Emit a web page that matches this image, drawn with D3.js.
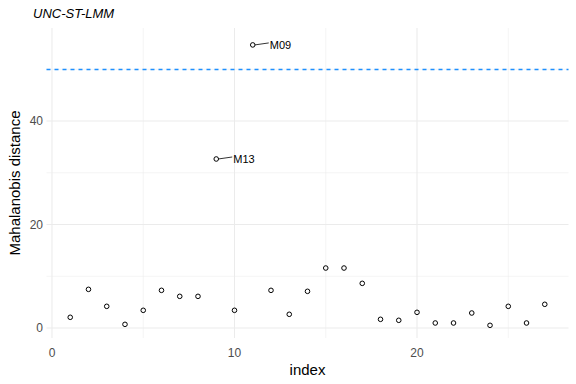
<!DOCTYPE html>
<html><head><meta charset="utf-8">
<script src="https://cdn.jsdelivr.net/npm/d3@7"></script>
<style>body{margin:0;background:#fff}svg{display:block}text{font-family:"Liberation Sans",Arial,sans-serif}</style>
</head><body><div id="chart"></div>
<script>
const indices = d3.range(1, 28);
const distances = [2.07, 7.47, 4.19, 0.71, 3.42, 7.28, 6.12, 6.12, 32.66, 3.42, 54.7, 7.28, 2.65, 7.09, 11.59, 11.59, 8.63, 1.68, 1.49, 3.03, 0.97, 0.97, 2.90, 0.52, 4.19, 0.97, 4.58];
const labels = [{index: 9, name: "M13"}, {index: 11, name: "M09"}];
const threshold = 50.05;
const xTicks = [0, 10, 20];
const yTicks = [0, 20, 40];
const xMinor = [5, 15, 25];
const yMinor = [10, 30, 50];
const title = "UNC-ST-LMM";

const W = 576, H = 384;
const svg = d3.select("#chart").append("svg").attr("width", W).attr("height", H);
const x = d3.scaleLinear().domain([-0.3, 28.3]).range([46.5, 568.5]);
const y = d3.scaleLinear().domain([-1.93, 57.97]).range([338, 28]);
const grid = svg.append("g");
grid.selectAll(".xmin").data(xMinor).join("line").attr("x1", d => x(d)).attr("x2", d => x(d)).attr("y1", y.range()[0]).attr("y2", y.range()[1]).attr("stroke", "#ebebeb").attr("stroke-width", 0.55);
grid.selectAll(".ymin").data(yMinor).join("line").attr("y1", d => y(d)).attr("y2", d => y(d)).attr("x1", x.range()[0]).attr("x2", x.range()[1]).attr("stroke", "#ebebeb").attr("stroke-width", 0.55);
grid.selectAll(".xmaj").data(xTicks).join("line").attr("x1", d => x(d)).attr("x2", d => x(d)).attr("y1", y.range()[0]).attr("y2", y.range()[1]).attr("stroke", "#ebebeb").attr("stroke-width", 1.07);
grid.selectAll(".ymaj").data(yTicks).join("line").attr("y1", d => y(d)).attr("y2", d => y(d)).attr("x1", x.range()[0]).attr("x2", x.range()[1]).attr("stroke", "#ebebeb").attr("stroke-width", 1.07);

const ty = Math.round(y(threshold)) + 0.5;
svg.append("line").attr("x1", x.range()[0]).attr("x2", x.range()[1]).attr("y1", ty).attr("y2", ty)
  .attr("stroke", "#1E90FF").attr("stroke-width", 1.3).attr("stroke-dasharray", "4,4");

svg.append("g").selectAll("text").data(xTicks).join("text").attr("x", d => x(d)).attr("y", 357).attr("text-anchor", "middle")
  .attr("font-size", 12).attr("fill", "#4d4d4d").text(d => d);
svg.append("g").selectAll("text").data(yTicks).join("text").attr("x", 43).attr("y", d => y(d) + 4.3).attr("text-anchor", "end")
  .attr("font-size", 12).attr("fill", "#4d4d4d").text(d => d);

svg.append("text").attr("x", x(14)).attr("y", 375).attr("text-anchor", "middle").attr("font-size", 15).attr("fill", "#000").text("index");
svg.append("text").attr("transform", `translate(20,${(y.range()[0] + y.range()[1]) / 2}) rotate(-90)`).attr("text-anchor", "middle")
  .attr("font-size", 15).attr("fill", "#000").text("Mahalanobis distance");
svg.append("text").attr("x", 33).attr("y", 18).attr("font-size", 13).attr("font-style", "italic").attr("fill", "#000").text(title);

const lab = svg.append("g");
labels.forEach(l => {
  const px = x(l.index), py = y(distances[l.index - 1]);
  lab.append("line").attr("x1", px + 2).attr("y1", py).attr("x2", px + 16).attr("y2", py - 2).attr("stroke", "#000").attr("stroke-width", 0.8);
  lab.append("text").attr("x", px + 17).attr("y", py + 4).attr("font-size", 11).attr("fill", "#000").text(l.name);
});

svg.append("g").selectAll("circle").data(indices).join("circle")
  .attr("cx", d => x(d)).attr("cy", (d, i) => y(distances[i])).attr("r", 2.3)
  .attr("fill", "none").attr("stroke", "#000").attr("stroke-width", 1);
</script></body></html>
